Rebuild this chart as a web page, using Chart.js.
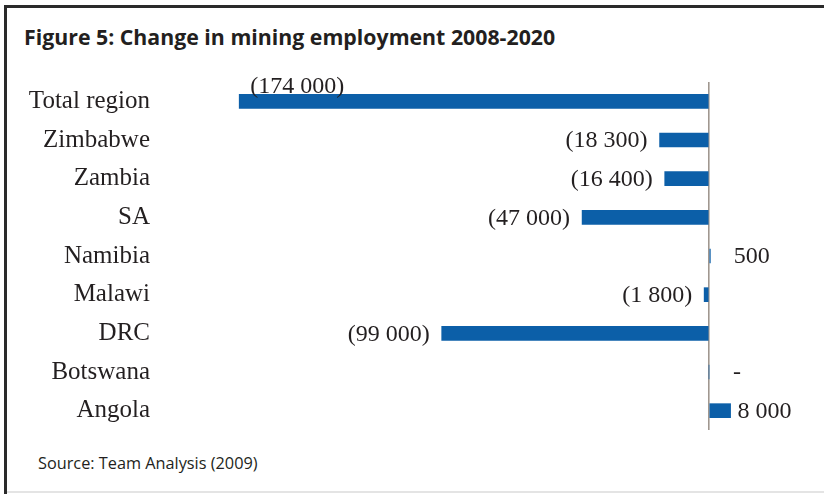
<!DOCTYPE html>
<html>
<head>
<meta charset="utf-8">
<script src="https://cdn.jsdelivr.net/npm/chart.js@4/dist/chart.umd.min.js"></script>
<style>
  html, body { margin: 0; padding: 0; background: #fff; }
  #frame { position: relative; width: 824px; height: 494px; overflow: hidden; background: #fff; }
  #frame .edge-left { position: absolute; left: 4px; top: 5px; width: 3px; height: 489px; background: #2a2a2a; }
  #frame .edge-top { position: absolute; left: 4px; top: 5px; width: 820px; height: 3px; background: #2a2a2a; }
  #frame .edge-bottom { position: absolute; left: 7px; top: 491px; width: 817px; height: 2px; background: #e4e4e4; }
  #title { position: absolute; left: 24px; top: 22px; font-family: "Open Sans", sans-serif; font-weight: 700; font-size: 21.3px; color: #231f20; white-space: nowrap; }
  #source { position: absolute; left: 38px; top: 452px; font-family: "Open Sans", sans-serif; font-size: 16.3px; color: #231f20; white-space: nowrap; }
  #chart { position: absolute; left: 0; top: 70px; }
</style>
</head>
<body>
<div id="frame">
  <div class="edge-left"></div>
  <div class="edge-top"></div>
  <div class="edge-bottom"></div>
  <div id="title">Figure 5: Change in mining employment 2008-2020</div>
  <canvas id="chart" width="824" height="370"></canvas>
  <div id="source">Source: Team Analysis (2009)</div>
</div>
<script>
// Change in mining employment by country, 2008-2020
const countries = ['Total region', 'Zimbabwe', 'Zambia', 'SA', 'Namibia', 'Malawi', 'DRC', 'Botswana', 'Angola'];
const jobChange = [-174000, -18300, -16400, -47000, 500, -1800, -99000, 0, 8000];

const barColor = '#0c5fa8';
const textColor = '#231f20';
const serif = '"Liberation Serif", "Times New Roman", serif';

// "(174 000)" for losses, "8 000" for gains, "-" for no change
function formatChange(v) {
  if (v === 0) return '-';
  const s = String(Math.abs(v)).replace(/\B(?=(\d{3})+(?!\d))/g, ' ');
  return v < 0 ? '(' + s + ')' : s;
}

const valueLabels = {
  id: 'valueLabels',
  afterDatasetsDraw(chart) {
    const ctx = chart.ctx;
    const area = chart.chartArea;
    const meta = chart.getDatasetMeta(0);
    const values = chart.data.datasets[0].data;
    ctx.save();
    ctx.font = '24px ' + serif;
    ctx.fillStyle = textColor;
    meta.data.forEach((bar, i) => {
      const v = values[i];
      const text = formatChange(v);
      const w = ctx.measureText(text).width;
      if (v < 0) {
        if (bar.x - 12 - w < area.left) {
          // no room beside the bar: sit the label on top of it
          ctx.textAlign = 'left';
          ctx.textBaseline = 'bottom';
          ctx.fillText(text, bar.x + 11, bar.y - bar.height / 2 + 4);
        } else {
          ctx.textAlign = 'right';
          ctx.textBaseline = 'middle';
          ctx.fillText(text, bar.x - 12, bar.y + 1);
        }
      } else {
        ctx.textAlign = 'left';
        ctx.textBaseline = 'middle';
        ctx.fillText(text, Math.max(bar.x + 7, bar.base + 24), bar.y + 1);
      }
    });
    ctx.restore();
  }
};

new Chart(document.getElementById('chart'), {
  type: 'bar',
  data: {
    labels: countries,
    datasets: [{
      data: jobChange,
      backgroundColor: barColor,
      borderWidth: 0,
      barThickness: 14
    }]
  },
  options: {
    indexAxis: 'y',
    responsive: false,
    animation: false,
    devicePixelRatio: 1,
    layout: { padding: { left: 0, right: 7, top: 12, bottom: 10 } },
    plugins: {
      legend: { display: false },
      tooltip: { enabled: false }
    },
    scales: {
      x: {
        min: -200000,
        max: 40000,
        afterFit(scale) { scale.height = 0; scale.paddingLeft = 0; scale.paddingRight = 0; },
        ticks: { display: false, stepSize: 20000 },
        border: { display: false },
        grid: {
          drawTicks: false,
          lineWidth: 1.6,
          color: c => (c.tick && c.tick.value === 0 ? '#a0978f' : 'rgba(0,0,0,0)')
        }
      },
      y: {
        afterFit(scale) { scale.width = 169; scale.paddingTop = 0; scale.paddingBottom = 0; },
        border: { display: false },
        grid: { display: false, drawTicks: false },
        ticks: {
          padding: 19,
          color: textColor,
          font: { family: serif, size: 25 }
        }
      }
    }
  },
  plugins: [valueLabels]
});
</script>
</body>
</html>
